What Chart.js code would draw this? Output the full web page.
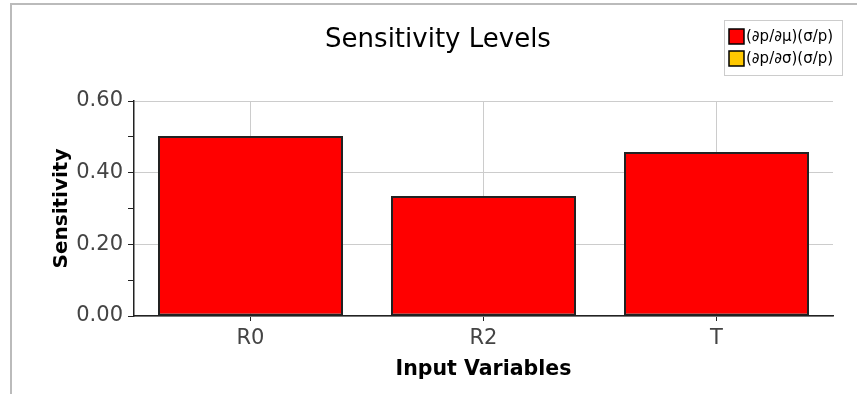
<!DOCTYPE html>
<html>
<head>
<meta charset="utf-8">
<script src="https://cdn.jsdelivr.net/npm/chart.js@4.4.1/dist/chart.umd.min.js"></script>
<style>
  html, body { margin: 0; padding: 0; background: #fff; }
  #wrap { position: relative; width: 859px; height: 394px; }
  #frame { position: absolute; left: 10px; top: 3px; width: 845px; height: 400px;
           border-top: 2px solid #bbb; border-left: 2px solid #bbb; pointer-events: none; }
</style>
</head>
<body>
<div id="wrap">
  <canvas id="chart" width="859" height="394"></canvas>
  <div id="frame"></div>
</div>
<script>
var categories = ['R0', 'R2', 'T'];
var seriesNames = ['(\u2202p/\u2202\u03bc)(\u03c3/p)', '(\u2202p/\u2202\u03c3)(\u03c3/p)'];
var muValues = [0.502, 0.335, 0.458];
var sigmaValues = [0, 0, 0];
var seriesColors = ['#ff0000', '#ffc800'];
var chartTitle = 'Sensitivity Levels';

var fontFamily = '"DejaVu Sans", Verdana, sans-serif';

// title and boxed legend drawn in the top area, like the original
var headerPlugin = {
    id: 'header',
    afterDraw: function(chart) {
        var ctx = chart.ctx;
        ctx.save();
        ctx.fillStyle = '#000';
        ctx.font = '26px ' + fontFamily;
        ctx.textAlign = 'center';
        ctx.textBaseline = 'middle';
        ctx.fillText(chartTitle, 438, 40);

        // legend box
        ctx.strokeStyle = '#cccccc';
        ctx.lineWidth = 1;
        ctx.strokeRect(724.5, 20.5, 118, 55);
        ctx.font = '15px ' + fontFamily;
        ctx.textAlign = 'left';
        chart.data.datasets.forEach(function(ds, i) {
            var y = 29 + i * 22;
            ctx.fillStyle = ds.backgroundColor;
            ctx.fillRect(729, y, 15, 15);
            ctx.strokeStyle = '#000';
            ctx.lineWidth = 1.5;
            ctx.strokeRect(729, y, 15, 15);
            ctx.fillStyle = '#000';
            ctx.fillText(ds.label, 746, y + 8);
        });
        ctx.restore();
    }
};

new Chart(document.getElementById('chart').getContext('2d'), {
    type: 'bar',
    data: {
        labels: categories,
        datasets: [{
            label: seriesNames[0],
            data: muValues,
            backgroundColor: seriesColors[0],
            borderColor: '#222',
            borderWidth: 2,
            borderSkipped: false,
            grouped: false,
            categoryPercentage: 1,
            barPercentage: 0.794
        }, {
            label: seriesNames[1],
            data: sigmaValues,
            backgroundColor: seriesColors[1],
            borderColor: '#222',
            borderWidth: 0,
            grouped: false,
            categoryPercentage: 1,
            barPercentage: 0.794
        }]
    },
    options: {
        responsive: false,
        animation: false,
        layout: { padding: { left: 10, right: 26, top: 101, bottom: 0 } },
        plugins: {
            legend: { display: false },
            title: { display: false },
            tooltip: { enabled: false }
        },
        scales: {
            x: {
                afterFit: function(scale) { scale.height = 78; },
                grid: {
                    offset: false,
                    color: '#cccccc',
                    tickColor: '#222',
                    tickLength: 5,
                    lineWidth: 1
                },
                border: { color: '#222', width: 1.5 },
                ticks: {
                    color: '#444',
                    padding: 5,
                    font: { family: fontFamily, size: 21 }
                },
                title: {
                    display: true,
                    text: 'Input Variables',
                    color: '#000',
                    padding: { top: 0, bottom: 12 },
                    font: { family: fontFamily, size: 20.5, weight: 'bold' }
                }
            },
            y: {
                min: 0,
                max: 0.6,
                afterFit: function(scale) { scale.width = 124; },
                grid: {
                    color: function(c) { return c.index % 2 === 0 ? '#cccccc' : 'rgba(0,0,0,0)'; },
                    tickColor: '#222',
                    tickLength: 6
                },
                border: { color: '#222', width: 1.5 },
                ticks: {
                    stepSize: 0.1,
                    color: '#444',
                    padding: 5,
                    font: { family: fontFamily, size: 21 },
                    callback: function(value, index) {
                        return index % 2 === 0 ? value.toFixed(2) : '';
                    }
                },
                title: {
                    display: true,
                    text: 'Sensitivity',
                    color: '#000',
                    padding: { top: 40, bottom: 0 },
                    font: { family: fontFamily, size: 20, weight: 'bold' }
                }
            }
        }
    },
    plugins: [headerPlugin]
});
</script>
</body>
</html>
